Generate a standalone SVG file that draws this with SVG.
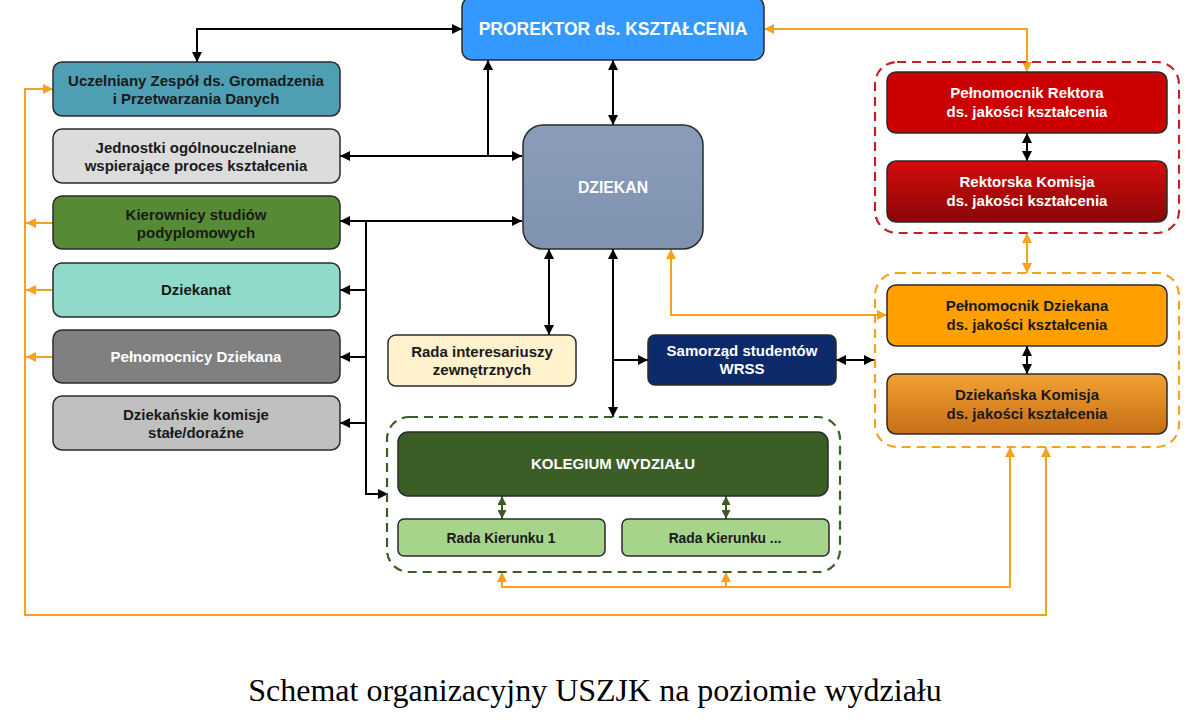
<svg xmlns="http://www.w3.org/2000/svg" width="1197" height="724" viewBox="0 0 1197 724">
<style>
.box{stroke:#2b2b2b;stroke-width:1.5}
.t{font-family:"Liberation Sans",Arial,sans-serif;font-weight:bold;font-size:15px;text-anchor:middle;fill:#1a1a1a}
.w{fill:#ffffff}
.blk{fill:none;stroke:#000;stroke-width:2}
.org{fill:none;stroke:#f5a21e;stroke-width:2}
.grn{fill:none;stroke:#3b5e27;stroke-width:2}
.dash{fill:none;stroke-width:2.2;stroke-dasharray:9 6}
</style>
<defs>
<marker id="ab" viewBox="0 0 10 10" refX="10" refY="5" markerWidth="5" markerHeight="5" orient="auto-start-reverse" markerUnits="strokeWidth"><path d="M0,0 L10,5 L0,10 z" fill="#000"/></marker>
<marker id="ao" viewBox="0 0 10 10" refX="10" refY="5" markerWidth="5" markerHeight="5" orient="auto-start-reverse" markerUnits="strokeWidth"><path d="M0,0 L10,5 L0,10 z" fill="#f5a21e"/></marker>
<marker id="ag" viewBox="0 0 10 10" refX="10" refY="5" markerWidth="4.5" markerHeight="4.5" orient="auto-start-reverse" markerUnits="strokeWidth"><path d="M0,0 L10,5 L0,10 z" fill="#3b5e27"/></marker>
<linearGradient id="gRed2" x1="0" y1="0" x2="0" y2="1"><stop offset="0" stop-color="#d40c0c"/><stop offset="1" stop-color="#8a0606"/></linearGradient>
<linearGradient id="gOr2" x1="0" y1="0" x2="0" y2="1"><stop offset="0" stop-color="#f2a234"/><stop offset="1" stop-color="#c66e16"/></linearGradient>
<linearGradient id="gDz" x1="0" y1="0" x2="0" y2="1"><stop offset="0" stop-color="#8a9cb8"/><stop offset="1" stop-color="#7f93b0"/></linearGradient>
</defs>

<g id="connectors">
<path class="blk" d="M197,62 V29 H462" marker-start="url(#ab)" marker-end="url(#ab)"/>
<path class="blk" d="M340,156 H522" marker-start="url(#ab)" marker-end="url(#ab)"/>
<path class="blk" d="M488,156 V60" marker-end="url(#ab)"/>
<path class="blk" d="M340,221 H522" marker-start="url(#ab)" marker-end="url(#ab)"/>
<path class="blk" d="M366,221 V494 H388" marker-end="url(#ab)"/>
<path class="blk" d="M366,290 H340" marker-end="url(#ab)"/>
<path class="blk" d="M366,357 H340" marker-end="url(#ab)"/>
<path class="blk" d="M366,423 H340" marker-end="url(#ab)"/>
<path class="blk" d="M613,60 V125" marker-start="url(#ab)" marker-end="url(#ab)"/>
<path class="blk" d="M549,249 V335" marker-start="url(#ab)" marker-end="url(#ab)"/>
<path class="blk" d="M613,249 V417" marker-start="url(#ab)" marker-end="url(#ab)"/>
<path class="blk" d="M613,360 H648" marker-end="url(#ab)"/>
<path class="blk" d="M836,360 H874" marker-start="url(#ab)" marker-end="url(#ab)"/>
<path class="blk" d="M1027,133 V161" marker-start="url(#ab)" marker-end="url(#ab)"/>
<path class="blk" d="M1027,346 V374" marker-start="url(#ab)" marker-end="url(#ab)"/>
<path class="grn" d="M502,496 V519" marker-start="url(#ag)" marker-end="url(#ag)"/>
<path class="grn" d="M726,496 V519" marker-start="url(#ag)" marker-end="url(#ag)"/>
<path class="org" d="M764,29 H1027 V72" marker-start="url(#ao)" marker-end="url(#ao)"/>
<path class="org" d="M1027,233 V273" marker-start="url(#ao)" marker-end="url(#ao)"/>
<path class="org" d="M671,249 V315 H887" marker-start="url(#ao)" marker-end="url(#ao)"/>
<path class="org" d="M502,572 V587 H1010 V447" marker-start="url(#ao)" marker-end="url(#ao)"/>
<path class="org" d="M726,587 V572" marker-end="url(#ao)"/>
<path class="org" d="M53,89 H25 V615 H1046 V447" marker-start="url(#ao)" marker-end="url(#ao)"/>
<path class="org" d="M53,223 H26" marker-end="url(#ao)"/>
<path class="org" d="M53,290 H26" marker-end="url(#ao)"/>
<path class="org" d="M53,357 H26" marker-end="url(#ao)"/>
</g>

<g id="group-red"><rect x="875" y="62" width="304" height="171" rx="22" class="dash" stroke="#c4202a"/></g>
<g id="group-orange"><rect x="875" y="273" width="304" height="174" rx="22" class="dash" stroke="#f5a21e"/></g>
<g id="group-green"><rect x="387" y="417" width="453" height="155" rx="22" class="dash" stroke="#3b5e27"/></g>

<g id="prorektor"><rect x="462" y="-3" width="302" height="63" rx="10" class="box" fill="#3399ff"/><text x="613" y="35" class="t w" style="font-size:17.5px">PROREKTOR ds. KSZTAŁCENIA</text></g>

<g id="uczelniany"><rect x="53" y="62" width="287" height="54" rx="9" class="box" fill="#4f9fb4"/><text x="196" y="86" class="t">Uczelniany Zespół ds. Gromadzenia</text><text x="196" y="104" class="t">i Przetwarzania Danych</text></g>
<g id="jednostki"><rect x="53" y="129" width="287" height="54" rx="9" class="box" fill="#dcdcdc"/><text x="196" y="153" class="t">Jednostki ogólnouczelniane</text><text x="196" y="171" class="t">wspierające proces kształcenia</text></g>
<g id="kierownicy"><rect x="53" y="196" width="287" height="53" rx="9" class="box" fill="#578a34"/><text x="196" y="220" class="t">Kierownicy studiów</text><text x="196" y="238" class="t">podyplomowych</text></g>
<g id="dziekanat"><rect x="53" y="263" width="287" height="54" rx="9" class="box" fill="#8fdacb"/><text x="196" y="295" class="t">Dziekanat</text></g>
<g id="pelnomocnicy"><rect x="53" y="330" width="287" height="53" rx="9" class="box" fill="#808080"/><text x="196" y="362" class="t w">Pełnomocnicy Dziekana</text></g>
<g id="komisje"><rect x="53" y="396" width="287" height="54" rx="9" class="box" fill="#c0c0c0"/><text x="196" y="420" class="t">Dziekańskie komisje</text><text x="196" y="438" class="t">stałe/doraźne</text></g>

<g id="dziekan"><rect x="523" y="125" width="180" height="124" rx="20" class="box" fill="url(#gDz)"/><text x="613" y="193" class="t w" style="font-size:15.8px">DZIEKAN</text></g>

<g id="rada-interesariuszy"><rect x="388" y="335" width="188" height="51" rx="8" class="box" fill="#fff2cc"/><text x="482" y="357" class="t">Rada interesariuszy</text><text x="482" y="375" class="t">zewnętrznych</text></g>
<g id="samorzad"><rect x="648" y="335" width="188" height="50" rx="7" class="box" fill="#0c2a6a"/><text x="742" y="356" class="t w">Samorząd studentów</text><text x="742" y="374" class="t w">WRSS</text></g>

<g id="kolegium"><rect x="398" y="432" width="430" height="64" rx="10" class="box" fill="#3b5e27"/><text x="613" y="469" class="t w">KOLEGIUM WYDZIAŁU</text></g>
<g id="rada-kierunku-1"><rect x="398" y="519" width="207" height="37" rx="6" class="box" fill="#a7d48b"/><text x="501" y="543" class="t" style="font-size:13.8px">Rada Kierunku 1</text></g>
<g id="rada-kierunku-n"><rect x="622" y="519" width="207" height="37" rx="6" class="box" fill="#a7d48b"/><text x="725" y="543" class="t" style="font-size:13.8px">Rada Kierunku ...</text></g>

<g id="pelnomocnik-rektora"><rect x="887" y="72" width="280" height="61" rx="9" class="box" fill="#cc0000"/><text x="1027" y="98" class="t w">Pełnomocnik Rektora</text><text x="1027" y="117" class="t w">ds. jakości kształcenia</text></g>
<g id="rektorska-komisja"><rect x="887" y="161" width="280" height="61" rx="9" class="box" fill="url(#gRed2)"/><text x="1027" y="187" class="t w">Rektorska Komisja</text><text x="1027" y="206" class="t w">ds. jakości kształcenia</text></g>
<g id="pelnomocnik-dziekana"><rect x="887" y="285" width="280" height="61" rx="9" class="box" fill="#ffa000"/><text x="1027" y="311" class="t">Pełnomocnik Dziekana</text><text x="1027" y="330" class="t">ds. jakości kształcenia</text></g>
<g id="dziekanska-komisja"><rect x="887" y="374" width="280" height="60" rx="9" class="box" fill="url(#gOr2)"/><text x="1027" y="400" class="t">Dziekańska Komisja</text><text x="1027" y="419" class="t">ds. jakości kształcenia</text></g>

<text x="595" y="701" style="font-family:'Liberation Serif','Times New Roman',serif;font-size:32px;text-anchor:middle;fill:#000">Schemat organizacyjny USZJK na poziomie wydziału</text>
</svg>
